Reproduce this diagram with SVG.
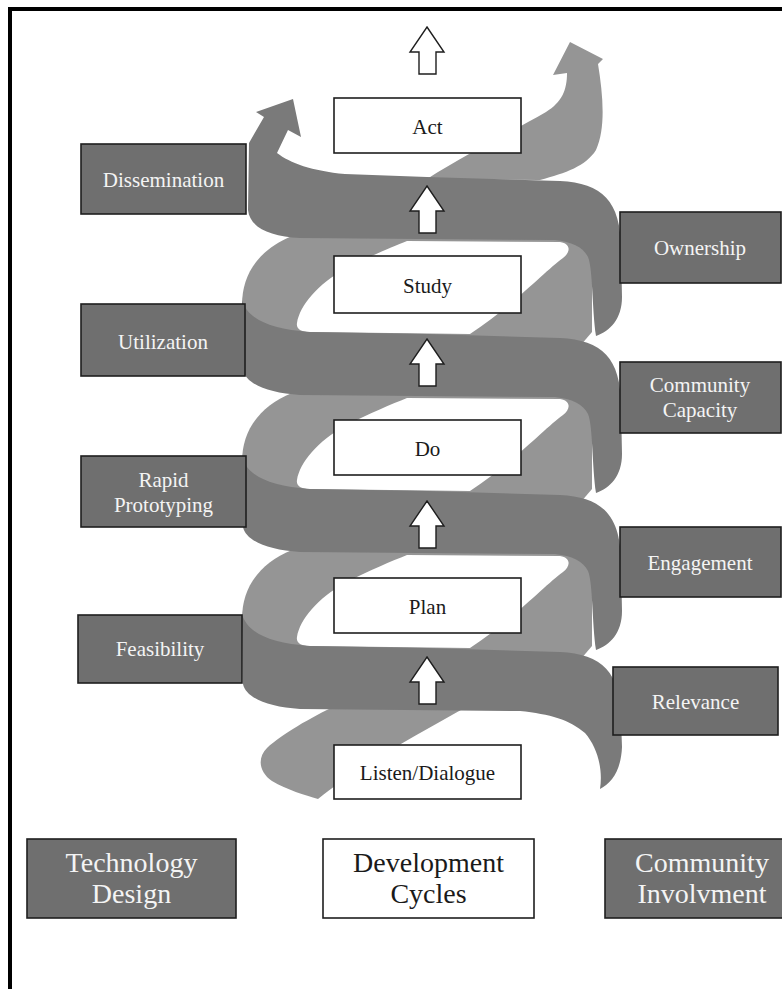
<svg xmlns="http://www.w3.org/2000/svg" width="782" height="989" viewBox="0 0 782 989">
<style>
.bg{fill:#ffffff}
.frame{fill:none;stroke:#000;stroke-width:4}
.dark{fill:#7a7a7a}
.light{fill:#959595}
.hole{fill:#ffffff}
.gbox{fill:#6f6f6f;stroke:#1e1e1e;stroke-width:1.6}
.wbox{fill:#ffffff;stroke:#1e1e1e;stroke-width:1.6}
.arr{fill:#ffffff;stroke:#1e1e1e;stroke-width:1.4;stroke-linejoin:miter}
.t{font-family:"Liberation Serif","Times New Roman",serif;font-size:21px;text-anchor:middle}
.tw{fill:#f4f4f4}
.tb{fill:#1a1a1a}
.big{font-size:28px}
</style>
<defs>
<path id="upArrow" d="M0,0 L17,25 L9,25 L9,47 L-8,47 L-8,25 L-17,25 Z"/>
</defs>
<rect class="bg" x="0" y="0" width="782" height="989"/>
<path class="frame" d="M10,989 V9 H782"/>

<g id="helix">
  <!-- back strands (light) -->
  <path class="light" d="M427,179 C470,152 515,130 546,112 C562,102 567,90 567,73 L553,75 L570,42 L603,59 L598,64 C603,95 606,128 596,150 C586,166 566,173 540,180 Z"/>
  <path class="light" d="M292,236 L592,236 L592,332 L580,346 L245,346 L242,305 C242,275 258,250 292,236 Z"/>
  <path class="light" d="M292,393 L592,393 L592,489 L580,503 L245,503 L242,462 C242,432 258,407 292,393 Z"/>
  <path class="light" d="M292,550 L592,550 L592,646 L580,660 L245,660 L242,619 C242,589 258,564 292,550 Z"/>
  <path class="light" d="M337,705 C310,718 282,734 267,748 C257,758 259,772 272,781 C287,790 305,795 318,799 C332,788 348,776 368,764 C398,745 432,726 470,705 Z"/>
  <!-- gaps (white eyes) -->
  <path class="hole" d="M297,323 C300,305 318,284 345,269 C370,256 392,247 407,241 L560,242 C572,244 570,253 563,258 C545,271 515,304 470,334 L310,332 C300,332 296,328 297,323 Z"/>
  <path class="hole" d="M297,480 C300,462 318,441 345,426 C370,413 392,404 407,398 L560,399 C572,401 570,410 563,415 C545,428 515,461 470,491 L310,489 C300,489 296,485 297,480 Z"/>
  <path class="hole" d="M297,637 C300,619 318,598 345,583 C370,570 392,561 407,555 L560,556 C572,558 570,567 563,572 C545,585 515,618 470,648 L310,646 C300,646 296,642 297,637 Z"/>
  <!-- front bands (dark) -->
  <path class="dark" d="M249,143 L264,117 L256,112 L293,99 L301,137 L288,130 L277,153 C290,163 312,171 345,174 L427,177 L560,181 C602,183 621,201 621,249 L622,297 C622,319 610,331 596,336 C592,309 593,269 588,257 C583,247 572,242 555,240 L300,238 C270,236 250,228 248,210 Z"/>
  <path class="dark" d="M242,300 C247,318 268,329 310,332 L427,334 L560,338 C602,340 621,358 621,406 L622,454 C622,476 610,488 596,493 C592,466 593,426 588,414 C583,404 572,399 555,397 L300,395 C268,393 246,384 243,370 Z"/>
  <path class="dark" d="M242,457 C247,475 268,486 310,489 L427,491 L560,495 C602,497 621,515 621,563 L622,611 C622,633 610,645 596,650 C592,623 593,583 588,571 C583,561 572,556 555,554 L300,552 C268,550 246,541 243,527 Z"/>
  <path class="dark" d="M242,614 C247,632 268,643 310,646 L427,648 L560,652 C602,654 621,672 621,720 L622,747 C621,770 612,783 600,789 C603,770 598,748 585,733 C570,720 550,714 520,711 L300,709 C268,707 246,698 243,684 Z"/>
</g>

<g id="connectors">
  <use href="#upArrow" class="arr" x="427" y="27"/>
  <use href="#upArrow" class="arr" x="427" y="186"/>
  <use href="#upArrow" class="arr" x="427" y="339"/>
  <use href="#upArrow" class="arr" x="427" y="501"/>
  <use href="#upArrow" class="arr" x="427" y="657"/>
</g>

<g id="act"><rect class="wbox" x="334" y="98" width="187" height="55"/><text class="t tb" x="427.5" y="134">Act</text></g>
<g id="study"><rect class="wbox" x="334" y="256" width="187" height="57"/><text class="t tb" x="427.5" y="293">Study</text></g>
<g id="do"><rect class="wbox" x="334" y="420" width="187" height="55"/><text class="t tb" x="427.5" y="455.5">Do</text></g>
<g id="plan"><rect class="wbox" x="334" y="578" width="187" height="55"/><text class="t tb" x="427.5" y="613.5">Plan</text></g>
<g id="listen"><rect class="wbox" x="334" y="745" width="187" height="54"/><text class="t tb" x="427.5" y="780">Listen/Dialogue</text></g>

<g id="dissemination"><rect class="gbox" x="81" y="144" width="165" height="70"/><text class="t tw" x="163.5" y="187">Dissemination</text></g>
<g id="utilization"><rect class="gbox" x="81" y="304" width="164" height="72"/><text class="t tw" x="163" y="349">Utilization</text></g>
<g id="rapid"><rect class="gbox" x="81" y="456" width="165" height="71"/><text class="t tw" x="163.5" y="487">Rapid</text><text class="t tw" x="163.5" y="512">Prototyping</text></g>
<g id="feasibility"><rect class="gbox" x="78" y="615" width="164" height="68"/><text class="t tw" x="160" y="656">Feasibility</text></g>

<g id="ownership"><rect class="gbox" x="620" y="212" width="161" height="71"/><text class="t tw" x="700" y="255">Ownership</text></g>
<g id="capacity"><rect class="gbox" x="620" y="362" width="161" height="71"/><text class="t tw" x="700" y="392">Community</text><text class="t tw" x="700" y="417">Capacity</text></g>
<g id="engagement"><rect class="gbox" x="620" y="527" width="161" height="70"/><text class="t tw" x="700" y="570">Engagement</text></g>
<g id="relevance"><rect class="gbox" x="613" y="667" width="165" height="68"/><text class="t tw" x="695.5" y="708.5">Relevance</text></g>

<g id="technology"><rect class="gbox" x="27" y="839" width="209" height="79"/><text class="t tw big" x="131.5" y="872">Technology</text><text class="t tw big" x="131.5" y="903">Design</text></g>
<g id="development"><rect class="wbox" x="323" y="839" width="211" height="79"/><text class="t tb big" x="428.5" y="872">Development</text><text class="t tb big" x="428.5" y="903">Cycles</text></g>
<g id="community"><rect class="gbox" x="605" y="839" width="195" height="79"/><text class="t tw big" x="702" y="872">Community</text><text class="t tw big" x="702" y="903">Involvment</text></g>
</svg>
